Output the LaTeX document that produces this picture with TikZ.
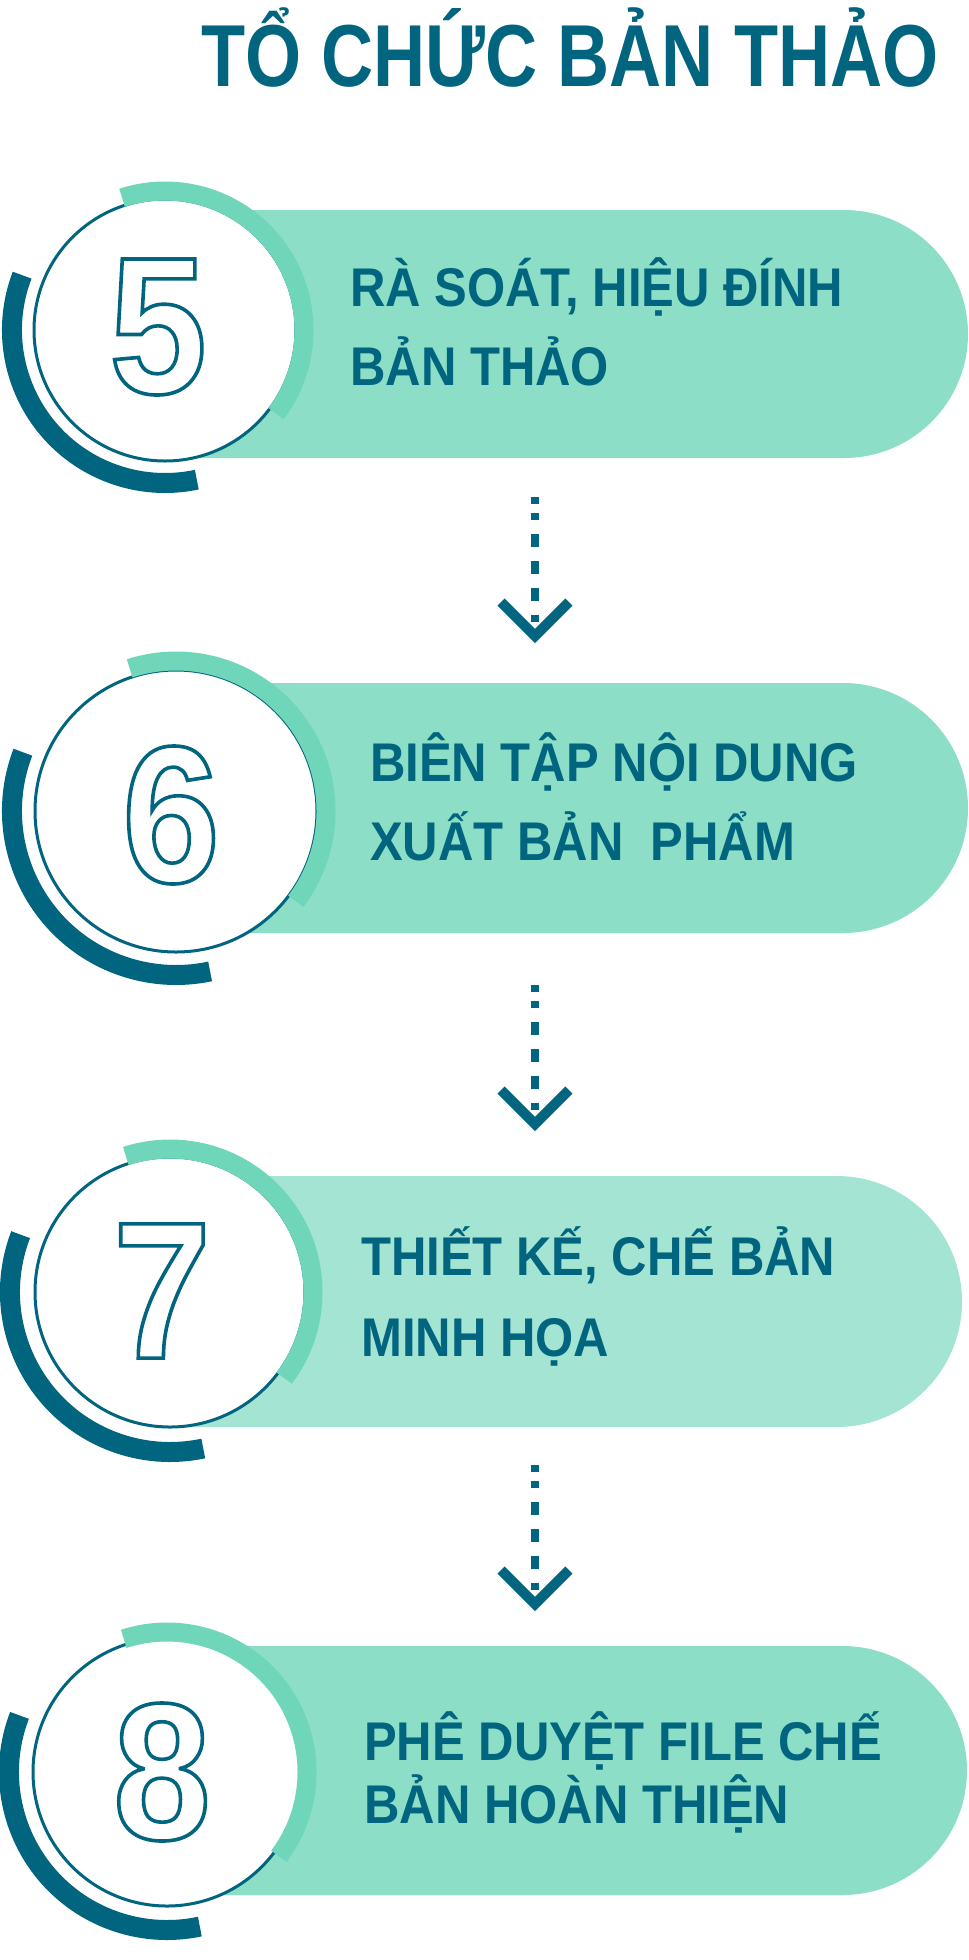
\documentclass[tikz,border=0pt]{standalone}
\usepackage{fontspec}
\setmainfont{Liberation Sans}
\newfontfamily\stepfont[FakeStretch=0.9]{Liberation Sans}
\newfontfamily\headfont[FakeStretch=0.82]{Liberation Sans}
\usetikzlibrary{shapes.misc,positioning}
\definecolor{deepteal}{RGB}{2,101,127}
\definecolor{mint}{RGB}{140,223,198}
\definecolor{palemint}{RGB}{163,228,211}
\definecolor{arcmint}{RGB}{112,214,185}
% hollow figure: glyph stroked, not filled
\newcommand{\hollow}[1]{\special{pdf:literal direct 1 Tr 3.6 w}#1\special{pdf:literal direct 0 Tr}}

\begin{document}
\begin{tikzpicture}[x=1pt,y=1pt]
    \tikzset{pill/.style={rounded rectangle,rounded rectangle left arc=none,fill=mint,inner sep=0pt},
      dial/.style={draw=deepteal,circle,fill=white,line width=3pt,inner sep=0pt},
      ring/.style={draw=arcmint,line width=19pt},
      band/.style={draw=deepteal,line width=20pt},
      digit/.style={font=\stepfont\bfseries\fontsize{195}{195}\selectfont,text=deepteal,inner sep=0pt},
      steptext/.style={font=\stepfont\bfseries\fontsize{54.5}{79}\selectfont,text=deepteal,anchor=base west,align=left,inner sep=0pt},
      dotline/.style={draw=deepteal,line width=8pt,dash pattern=on 7pt off 9pt on 7pt off 14pt on 13pt off 14pt on 13pt off 14pt on 13pt off 14pt on 7pt},
      chevron/.style={draw=deepteal,line width=10pt,miter limit=4}}
    \useasboundingbox (0,0) rectangle (969,-1960);
    \node[font=\headfont\bfseries\fontsize{88}{88}\selectfont,text=deepteal,anchor=base west,inner sep=0pt] (title) at (201,-86) {TỔ CHỨC BẢN THẢO};
    % bars behind the dials
    \node[pill,minimum width=803pt,minimum height=248pt] (p5) at (566.5,-334) {};
    \node[pill,minimum width=792pt,minimum height=250pt] (p6) at (572,-808) {};
    \node[pill,fill=palemint,minimum width=792pt,minimum height=251pt] (p7) at (566,-1301.5) {};
    \node[pill,minimum width=800pt,minimum height=249pt] (p8) at (567,-1770.5) {};
    \foreach \n/\x/\y/\r/\g/\d in {5/165/330/131/139/153,6/176/811/141/150/164,7/170/1292/135/143/160,8/167/1772/134/140/158}
    {
      \node[dial,minimum size={2*\r*1pt}] (c\n) at (\x,-\y) {};
      \draw[ring] ([shift={(-37:\g pt)}]c\n.center) arc[start angle=-37,end angle=108,radius=\g pt];
      \draw[band] ([shift={(159:\d pt)}]c\n.center) arc[start angle=159,end angle=282,radius=\d pt];
    }
    \node[digit] (n5) at (158,-327) {\hollow{5}};
    \node[digit] (n6) at (171,-815) {\hollow{6}};
    \node[digit] (n7) at (162,-1291) {\hollow{7}};
    \node[digit] (n8) at (162,-1772) {\hollow{8}};
    \node[steptext] (t5) at (350,-385) {RÀ SOÁT, HIỆU ĐÍNH\\BẢN THẢO};
    \node[steptext] (t6) at (370,-860) {BIÊN TẬP NỘI DUNG\\XUẤT BẢN~ PHẨM};
    \node[steptext,font=\stepfont\bfseries\fontsize{54.5}{81}\selectfont] (t7) at (361,-1356) {THIẾT KẾ, CHẾ BẢN\\MINH HỌA};
    \node[steptext,font=\stepfont\bfseries\fontsize{54.5}{63}\selectfont] (t8) at (364,-1823) {PHÊ DUYỆT FILE CHẾ\\BẢN HOÀN THIỆN};
    % dotted links
    \foreach \k/\D in {1/497,2/985,3/1465}
    {
      \coordinate (s\k) at (535,-\D);
      \coordinate (e\k) at (535,-\D-126);
      \coordinate (h\k) at (535,-\D-139);
      \draw[dotline] (s\k) -- (e\k);
      \draw[chevron] ([shift={(-34,34)}]h\k) -- (h\k) -- ([shift={(34,34)}]h\k);
    }
\end{tikzpicture}
\end{document}
